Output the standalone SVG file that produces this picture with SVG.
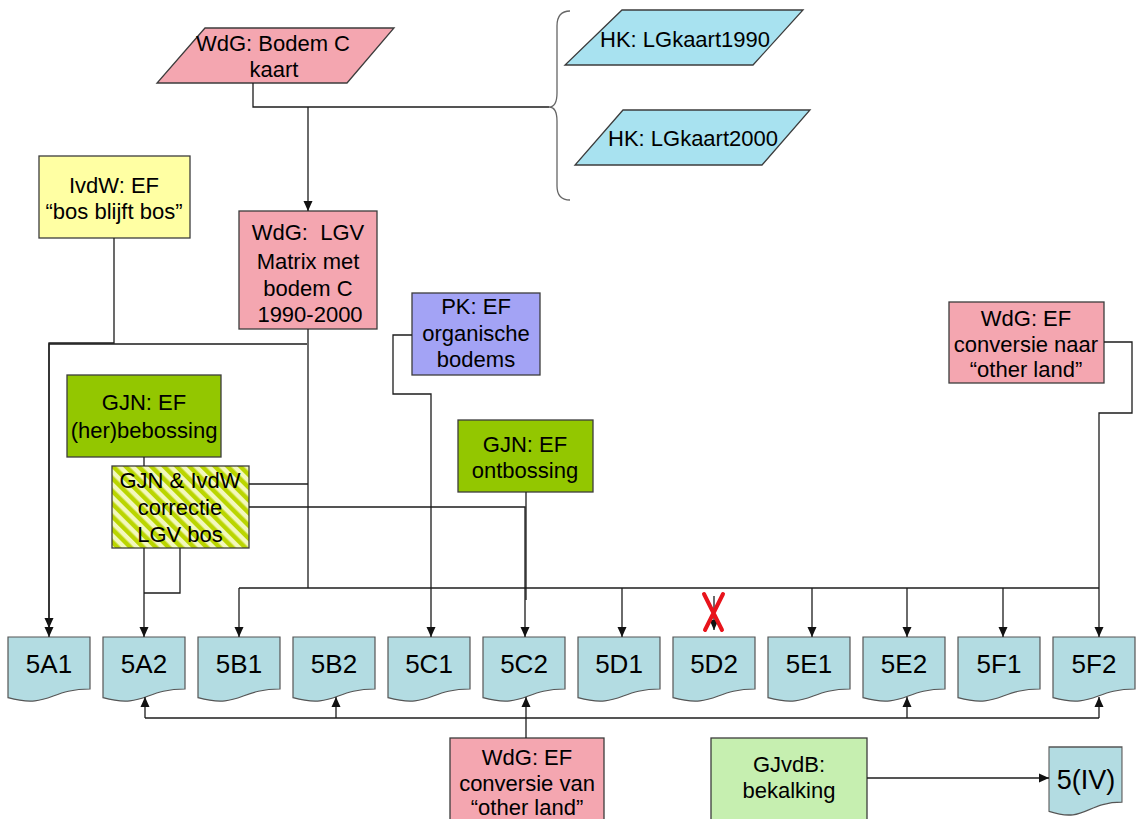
<svg xmlns="http://www.w3.org/2000/svg" width="1139" height="819" viewBox="0 0 1139 819">
<style>
text{font-family:"Liberation Sans",Arial,sans-serif;font-size:22px;fill:#000;text-anchor:middle}
.doc text{font-size:26px}
.box{stroke:#3c3c3c;stroke-width:1.3}
.pink{fill:#F4A6B0}
.cyan{fill:#A8E2F0}
.yellow{fill:#FFFFA3}
.purple{fill:#A3A3F5}
.green{fill:#93C700}
.lgreen{fill:#C6EFB0}
.hatch{fill:url(#hatch)}
.docf{fill:#B3DCE2;stroke:#555;stroke-width:1.2}
.con path{fill:none;stroke:#1c1c1c;stroke-width:1.3}
.con .a{marker-end:url(#ah)}
.brace{fill:none;stroke:#666;stroke-width:1.3}
.x{stroke:#E8141B;stroke-width:4;stroke-linecap:round;fill:none}
</style>
<defs>
<marker id="ah" viewBox="0 0 10 10" refX="10" refY="5" markerWidth="10" markerHeight="10" markerUnits="userSpaceOnUse" orient="auto"><path d="M0,0.5 L10,5 L0,9.5 z" fill="#111"/></marker>
<pattern id="hatch" patternUnits="userSpaceOnUse" width="9" height="9" patternTransform="rotate(-45)"><rect width="9" height="9" fill="#F3F8BE"/><rect width="4.5" height="9" fill="#BAD500"/></pattern>
<path id="doc" d="M0,0 H82 V52 C41,52 41,72 0,60.7 Z"/>
</defs>

<g id="bodemC"><polygon class="box pink" points="205,28 394,28 347,83 157,83"/><text x="273" y="51">WdG: Bodem C</text><text x="274" y="77">kaart</text></g>
<g id="lg1990"><polygon class="box cyan" points="622,10 803,10 753,65 565,65"/><text x="685" y="47">HK: LGkaart1990</text></g>
<g id="lg2000"><polygon class="box cyan" points="623,110 810,110 762,165 575,165"/><text x="693" y="146">HK: LGkaart2000</text></g>
<g id="brace"><path class="brace" d="M570,11 Q557,11 557,26 L557,93 Q557,107 549,107 Q557,107 557,121 L557,186 Q557,200 570,200"/></g>

<g id="ivdw"><rect class="box yellow" x="39" y="156" width="151" height="82"/><text x="114" y="193">IvdW: EF</text><text x="114" y="219">“bos blijft bos”</text></g>
<g id="lgv"><rect class="box pink" x="239" y="211" width="138" height="118"/><text x="308" y="240" xml:space="preserve">WdG:  LGV</text><text x="308" y="269">Matrix met</text><text x="308" y="296">bodem C</text><text x="310" y="322">1990-2000</text></g>
<g id="pk"><rect class="box purple" x="412" y="293" width="128" height="82"/><text x="476" y="314">PK: EF</text><text x="476" y="341">organische</text><text x="476" y="367">bodems</text></g>
<g id="conv-naar"><rect class="box pink" x="949" y="302" width="155" height="81"/><text x="1026" y="326">WdG: EF</text><text x="1026" y="352">conversie naar</text><text x="1026" y="377">“other land”</text></g>
<g id="herbebossing"><rect class="box green" x="67" y="375" width="154" height="82"/><text x="144" y="410">GJN: EF</text><text x="144" y="438">(her)bebossing</text></g>
<g id="ontbossing"><rect class="box green" x="458" y="420" width="135" height="72"/><text x="525" y="452">GJN: EF</text><text x="525" y="478">ontbossing</text></g>
<g id="correctie"><rect class="box hatch" x="112" y="466" width="137" height="82"/><text x="180" y="488">GJN &amp; IvdW</text><text x="180" y="515">correctie</text><text x="180" y="542">LGV bos</text></g>

<g id="d5A1" class="doc"><use href="#doc" class="docf" x="8" y="637"/><text x="49" y="673">5A1</text></g>
<g id="d5A2" class="doc"><use href="#doc" class="docf" x="103" y="637"/><text x="144" y="673">5A2</text></g>
<g id="d5B1" class="doc"><use href="#doc" class="docf" x="198" y="637"/><text x="239" y="673">5B1</text></g>
<g id="d5B2" class="doc"><use href="#doc" class="docf" x="293" y="637"/><text x="334" y="673">5B2</text></g>
<g id="d5C1" class="doc"><use href="#doc" class="docf" x="388" y="637"/><text x="429" y="673">5C1</text></g>
<g id="d5C2" class="doc"><use href="#doc" class="docf" x="483" y="637"/><text x="524" y="673">5C2</text></g>
<g id="d5D1" class="doc"><use href="#doc" class="docf" x="578" y="637"/><text x="619" y="673">5D1</text></g>
<g id="d5D2" class="doc"><use href="#doc" class="docf" x="673" y="637"/><text x="714" y="673">5D2</text></g>
<g id="d5E1" class="doc"><use href="#doc" class="docf" x="768" y="637"/><text x="809" y="673">5E1</text></g>
<g id="d5E2" class="doc"><use href="#doc" class="docf" x="863" y="637"/><text x="904" y="673">5E2</text></g>
<g id="d5F1" class="doc"><use href="#doc" class="docf" x="958" y="637"/><text x="999" y="673">5F1</text></g>
<g id="d5F2" class="doc"><use href="#doc" class="docf" x="1053" y="637"/><text x="1094" y="673">5F2</text></g>

<g id="conv-van"><rect class="box pink" x="450" y="738" width="154" height="90"/><text x="527" y="765">WdG: EF</text><text x="527" y="791">conversie van</text><text x="527" y="815">“other land”</text></g>
<g id="bekalking"><rect class="box lgreen" x="711" y="738" width="156" height="90"/><text x="789" y="772">GJvdB:</text><text x="789" y="798">bekalking</text></g>
<g id="d5IV" class="doc"><use href="#doc" class="docf" transform="translate(1049,747) scale(0.89,1.06)"/><text x="1086" y="789" style="font-size:27px">5(IV)</text></g>

<g id="connectors" class="con">
<path d="M253,83 V107 H549"/>
<path class="a" d="M308,107 V211"/>
<path class="a" d="M114,238 V343 H49 V628"/>
<path class="a" d="M307,344 H49 V637"/>
<path d="M308,329 V588"/>
<path d="M249,484 H308"/>
<path class="a" d="M249,507 H525 V637"/>
<path d="M526,492 V600"/>
<path d="M144,457 V466"/>
<path class="a" d="M144,548 V637"/>
<path d="M180,548 V593 H144"/>
<path class="a" d="M412,335 H393 V394 H431 V637"/>
<path d="M1104,342 H1132 V413 H1099 V588"/>
<path d="M239,588 H1099"/>
<path class="a" d="M239,588 V637"/>
<path class="a" d="M622,588 V637"/>
<path class="a" d="M812,588 V637"/>
<path class="a" d="M907,588 V637"/>
<path class="a" d="M1003,588 V637"/>
<path class="a" d="M1099,588 V637"/>
<path class="a" d="M714,596 V630"/>
<path d="M145,718 H1099"/>
<path class="a" d="M145,718 V697"/>
<path class="a" d="M336,718 V697"/>
<path class="a" d="M526,738 V697"/>
<path class="a" d="M907,718 V697"/>
<path class="a" d="M1099,718 V697"/>
<path class="a" d="M867,778 H1049"/>
</g>
<g id="cross"><path class="x" d="M704,594 L722,630 M723,594 L705,630"/></g>
</svg>
